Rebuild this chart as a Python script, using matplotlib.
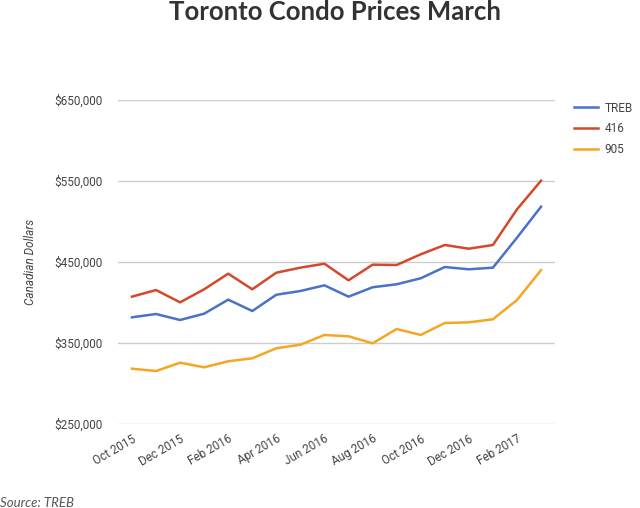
import numpy as np
import matplotlib
matplotlib.use('Agg')
import matplotlib.pyplot as plt
from matplotlib.ticker import FuncFormatter

# monthly condo prices, Oct 2015 - Mar 2017
months = ['Oct 2015', 'Nov 2015', 'Dec 2015', 'Jan 2016', 'Feb 2016', 'Mar 2016',
          'Apr 2016', 'May 2016', 'Jun 2016', 'Jul 2016', 'Aug 2016', 'Sep 2016',
          'Oct 2016', 'Nov 2016', 'Dec 2016', 'Jan 2017', 'Feb 2017', 'Mar 2017']
treb = [381700, 385800, 378400, 386200, 403500, 389500, 409600, 414200, 421200,
        407200, 418800, 422500, 429900, 443800, 441000, 443000, 480000, 518300]
gta_416 = [407200, 415400, 400200, 416300, 435600, 416300, 436800, 443000, 447900,
           427400, 446700, 446300, 459500, 471000, 466400, 471000, 515000, 550400]
gta_905 = [318300, 315400, 325700, 320000, 327400, 331100, 343500, 347900, 359900,
           358300, 349600, 367300, 359900, 374700, 375500, 379300, 403000, 440000]
series_names = ['TREB', '416', '905']
colors = ['#4a72c6', '#d6482b', '#f5a623']
y_ticks = [250000, 350000, 450000, 550000, 650000]

fig = plt.figure(figsize=(6.4, 5.08), dpi=100)
ax = fig.add_axes([118 / 640, 1 - 424 / 508, (555 - 118) / 640, (424 - 100) / 508])

x = np.arange(len(months))
for vals, name, c in zip([treb, gta_416, gta_905], series_names, colors):
    ax.plot(x, vals, color=c, lw=1.8, label=name)

ax.set_ylim(250000, 650000)
ax.set_xlim(-0.58, len(months) - 1 + 0.58)
ax.set_yticks(y_ticks)
ax.yaxis.set_major_formatter(FuncFormatter(lambda v, p: '${:,.0f}'.format(v)))
ax.set_xticks(x[::2])
ax.set_xticklabels(months[::2], rotation=30, ha='right', rotation_mode='anchor')
ax.tick_params(axis='both', length=0, labelsize=8.5, labelcolor='#444444')
ax.tick_params(axis='y', pad=11)
ax.tick_params(axis='x', pad=6)
for lab in ax.get_xticklabels() + ax.get_yticklabels():
    lab.set_family('Roboto')
ax.grid(axis='y', color='#cccccc', lw=1)
ax.set_axisbelow(True)
for s in ax.spines.values():
    s.set_visible(False)

# y axis title
fig.text(30 / 640, 1 - 262 / 508, 'Canadian Dollars', fontsize=8.5, style='italic',
         color='#444444', family='Roboto', rotation=90, ha='center', va='center')

fig.text(335 / 640, 1 - 20 / 508, 'Toronto Condo Prices March', fontsize=18.5,
         fontweight='bold', family='Lato', color='#333333', ha='center', va='baseline')
fig.text(0, 1 - 503 / 508, 'Source: TREB', fontsize=9.5, style='italic',
         family='Lato', color='#555555', ha='left', va='center')

leg = ax.legend(loc='upper left', bbox_to_anchor=(563 / 640, 1 - 91 / 508),
                bbox_transform=fig.transFigure, frameon=False, fontsize=8.5,
                handlelength=2.1, handletextpad=0.5, labelspacing=0.65)
for t in leg.get_texts():
    t.set_color('#444444')
    t.set_family('Roboto')

fig.savefig('out.png', dpi=100, facecolor='white')
